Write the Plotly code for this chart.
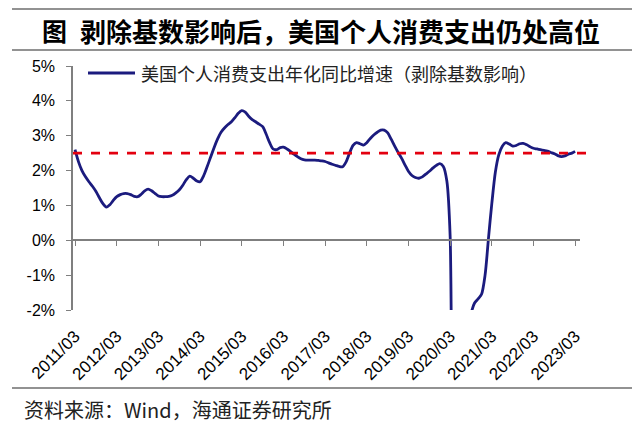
import plotly.graph_objects as go
import pandas as pd

months = pd.date_range("2011-03-01", "2023-03-01", freq="MS")

# 美国个人消费支出年化同比增速（剥除基数影响），%
pce = [
    2.60, 2.25, 2.00, 1.82, 1.68, 1.55, 1.40, 1.22, 1.05, 0.95, 1.02, 1.15,
    1.25, 1.31, 1.34, 1.34, 1.31, 1.26, 1.25, 1.32, 1.42, 1.47, 1.42, 1.34,
    1.27, 1.25, 1.25, 1.26, 1.29, 1.36, 1.45, 1.58, 1.74, 1.84, 1.78, 1.70,
    1.68, 1.85, 2.10, 2.38, 2.65, 2.90, 3.10, 3.22, 3.32, 3.40, 3.52, 3.65,
    3.72, 3.68, 3.56, 3.46, 3.40, 3.33, 3.26, 3.05, 2.80, 2.62, 2.60, 2.66,
    2.67, 2.62, 2.55, 2.47, 2.40, 2.34, 2.31, 2.30, 2.30, 2.30, 2.29, 2.28,
    2.26, 2.22, 2.18, 2.15, 2.12, 2.11, 2.25, 2.50, 2.72, 2.80, 2.77, 2.73,
    2.80, 2.92, 3.02, 3.10, 3.16, 3.16, 3.08, 2.90, 2.70, 2.52, 2.35, 2.15,
    1.98, 1.86, 1.80, 1.78, 1.82, 1.90, 1.98, 2.07, 2.15, 2.20, 2.12, 1.70,
    0.10, -8.0, -7.0, -5.0, -3.6, -2.8, -2.1, -1.8, -1.68, -1.55, -1.00, 0.10,
    1.05, 1.95, 2.45, 2.70, 2.80, 2.76, 2.70, 2.72, 2.77, 2.78, 2.74, 2.68,
    2.64, 2.62, 2.60, 2.58, 2.56, 2.52, 2.48, 2.43, 2.40, 2.42, 2.47, 2.50,
    2.55,
]
ref_level = 2.5

tick_dates = months[::12]
tick_labels = [d.strftime("%Y/%m") for d in tick_dates]
y_ticks = [-2, -1, 0, 1, 2, 3, 4, 5]
y_labels = ["-2%", "-1%", "0%", "1%", "2%", "3%", "4%", "5%"]

# the page body adds an 8px margin, so the figure is drawn 8px in from the corner
OFF = 8
W, H = 640 - OFF, 426 - OFF
L, R, T, B = 73, 580, 66, 310
x_range = ["2011-02-11 12:00", "2023-04-13"]


def px(x):
    return (x - L) / (R - L)


def py(y):
    return (B - y) / (B - T)


axis_col = "#7f7f7f"
num_font = dict(family="Liberation Sans, Arial", size=16, color="black")
cjk = "Noto Sans CJK SC"

fig = go.Figure()
fig.add_trace(go.Scatter(
    x=months, y=pce, mode="lines",
    line=dict(color="#1b1b7e", width=2.8, shape="spline", smoothing=0.8),
    showlegend=False,
))
fig.add_trace(go.Scatter(x=[months[0]], y=[None], xaxis="x2", showlegend=False))

fig.update_layout(
    width=W, height=H,
    margin=dict(l=L - OFF, r=640 - R, t=T - OFF, b=426 - B),
    plot_bgcolor="white", paper_bgcolor="white",
    xaxis=dict(
        type="date", range=x_range, tickvals=tick_dates, ticktext=tick_labels,
        tickangle=-45, ticks="", showline=False, showgrid=False, zeroline=False,
        tickfont=dict(family="Liberation Sans, Arial", size=17, color="black"),
        ticklabelstandoff=12,
    ),
    xaxis2=dict(
        type="date", range=x_range, overlaying="x", anchor="free", position=2 / 7,
        tickvals=tick_dates, ticks="outside", ticklen=5, tickcolor=axis_col,
        showticklabels=False, showline=True, linecolor=axis_col, linewidth=1.5,
        showgrid=False, zeroline=False,
    ),
    yaxis=dict(
        range=[-2, 5], tickvals=y_ticks, ticktext=y_labels, ticks="outside", ticklen=5,
        tickcolor=axis_col, showline=True, linecolor=axis_col, linewidth=1.5,
        showgrid=False, zeroline=False, tickfont=num_font, ticklabelstandoff=8,
    ),
)

shapes = [
    dict(type="line", xref="paper", yref="y", x0=0, x1=px(586), y0=ref_level, y1=ref_level,
         line=dict(color="#e3000f", width=2.6, dash="dash")),
    dict(type="line", xref="paper", yref="paper", x0=px(88), x1=px(135), y0=py(73), y1=py(73),
         line=dict(color="#1b1b7e", width=2.8)),
]
for yy in (9, 50, 388):
    shapes.append(dict(type="line", xref="paper", yref="paper", x0=px(12), x1=px(632),
                       y0=py(yy), y1=py(yy), line=dict(color="#6e6e6e", width=1.5)))
fig.update_layout(shapes=shapes)

fig.add_annotation(x=px(139), y=py(73), xref="paper", yref="paper", xanchor="left",
                   yanchor="middle", showarrow=False,
                   text="美国个人消费支出年化同比增速（剥除基数影响）",
                   font=dict(family=cjk, size=18, color="#222"))
fig.add_annotation(x=px(40), y=py(30), xref="paper", yref="paper", xanchor="left",
                   yanchor="middle", showarrow=False, text="<b>图</b>",
                   font=dict(family=cjk, size=25, color="black"))
fig.add_annotation(x=px(78), y=py(30), xref="paper", yref="paper", xanchor="left",
                   yanchor="middle", showarrow=False,
                   text="<b>剥除基数影响后，美国个人消费支出仍处高位</b>",
                   font=dict(family=cjk, size=26, color="black"))
fig.add_annotation(x=px(22), y=py(409), xref="paper", yref="paper", xanchor="left",
                   yanchor="middle", showarrow=False,
                   text="资料来源：Wind，海通证券研究所",
                   font=dict(family=cjk, size=20, color="#222"))

fig.write_html("out.html")
